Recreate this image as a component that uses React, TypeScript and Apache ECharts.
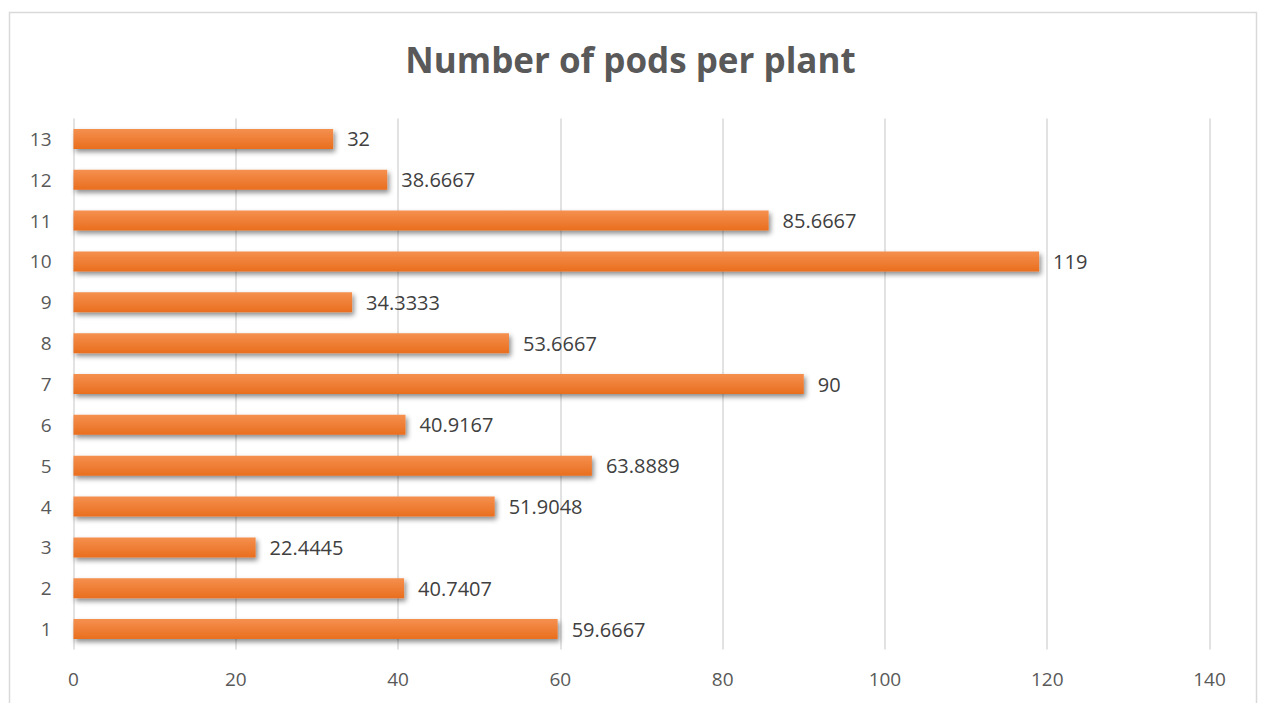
import React, { useEffect, useRef } from "react";
import * as echarts from "echarts";

const categories = ["1", "2", "3", "4", "5", "6", "7", "8", "9", "10", "11", "12", "13"];
const pods = [59.6667, 40.7407, 22.4445, 51.9048, 63.8889, 40.9167, 90, 53.6667, 34.3333, 119, 85.6667, 38.6667, 32];
const labels = ["59.6667", "40.7407", "22.4445", "51.9048", "63.8889", "40.9167", "90", "53.6667", "34.3333", "119", "85.6667", "38.6667", "32"];
const xTicks = { min: 0, max: 140, interval: 20 };

export default function App() {
  const ref = useRef<HTMLDivElement>(null);

  useEffect(() => {
    if (!ref.current) return;
    const chart = echarts.init(ref.current, null, { renderer: "svg" });
    const font = "'Open Sans', 'Liberation Sans', sans-serif";
    chart.setOption({
      animation: false,
      backgroundColor: "#ffffff",
      title: {
        text: "Number of pods per plant",
        left: "center",
        top: 37,
        textStyle: { fontFamily: font, fontSize: 35, fontWeight: "bold", color: "#595959" },
      },
      graphic: [
        {
          type: "rect",
          shape: { x: 9.5, y: 12.5, width: 1247, height: 720 },
          style: { fill: "none", stroke: "#d9d9d9", lineWidth: 1.5 },
          silent: true,
        },
      ],
      grid: { left: 73.5, right: 51.5, top: 118.5, bottom: 53.5, containLabel: false },
      xAxis: {
        type: "value",
        min: xTicks.min,
        max: xTicks.max,
        interval: xTicks.interval,
        axisLine: { show: false },
        axisTick: { show: false },
        axisLabel: { fontFamily: font, fontSize: 19, color: "#595959", margin: 20 },
        splitLine: { show: true, lineStyle: { color: "#d9d9d9", width: 1.5 } },
      },
      yAxis: {
        type: "category",
        data: categories,
        axisLine: { show: false },
        axisTick: { show: false },
        axisLabel: { fontFamily: font, fontSize: 19, color: "#595959", margin: 22 },
      },
      series: [
        {
          type: "bar",
          data: pods.map((v, i) => ({ value: v, label: { formatter: labels[i] } })),
          barWidth: "49%",
          itemStyle: {
            color: new echarts.graphic.LinearGradient(0, 0, 0, 1, [
              { offset: 0, color: "#f5904f" },
              { offset: 1, color: "#e96e1e" },
            ]),
            shadowColor: "rgba(0,0,0,0.45)",
            shadowBlur: 5,
            shadowOffsetX: 2,
            shadowOffsetY: 3,
          },
          label: {
            show: true,
            position: "right",
            distance: 14,
            fontFamily: font,
            fontSize: 20,
            color: "#404040",
          },
        },
      ],
    });
    return () => chart.dispose();
  }, []);

  return (
    <div
      ref={ref}
      style={{ position: "fixed", left: 0, top: 0, width: 1261, height: 703 }}
    />
  );
}
